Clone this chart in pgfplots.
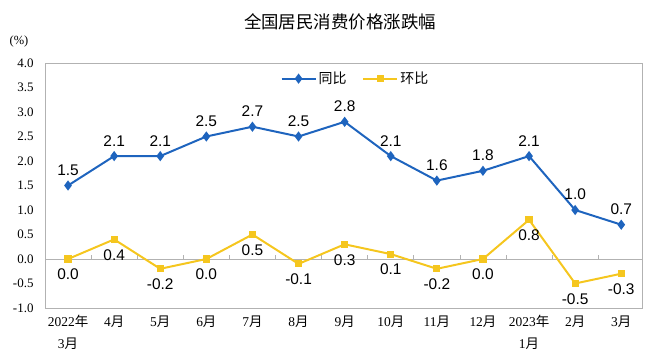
\documentclass[border=0pt]{standalone}
\usepackage{pgfplots}
\pgfplotsset{compat=1.18}
\usepackage{fontspec}
\setmainfont{Liberation Serif}
\newfontfamily\cjk{Noto Sans CJK SC}
\newfontfamily\arial{Liberation Sans}
\definecolor{tb}{RGB}{30,100,190}
\definecolor{ty}{RGB}{245,198,30}
\begin{document}
\begin{tikzpicture}
\begin{axis}[
  scale only axis, width=597bp, height=245bp,
  at={(0,0)}, anchor=south west,
  xmin=-0.5, xmax=12.45, ymin=-1, ymax=4,
  /pgf/number format/assume math mode=true,
  ytick={-1,-0.5,0,0.5,1,1.5,2,2.5,3,3.5,4},
  yticklabel style={/pgf/number format/fixed, /pgf/number format/fixed zerofill, /pgf/number format/precision=1, font=\fontsize{13}{14}\selectfont, xshift=-8bp},
  major tick length=0pt,
  xtick={0,...,12},
  xticklabels={{2022{\cjk 年}\\3{\cjk 月}},4{\cjk 月},5{\cjk 月},6{\cjk 月},7{\cjk 月},8{\cjk 月},9{\cjk 月},10{\cjk 月},11{\cjk 月},12{\cjk 月},{2023{\cjk 年}\\1{\cjk 月}},2{\cjk 月},3{\cjk 月}},
  xticklabel style={align=center, anchor=north, yshift=-4bp, font=\fontsize{13.5}{22}\selectfont},
  axis line style={black!30, line width=0.9pt},
  clip=false,
  legend style={at={(0.52,0.98)}, anchor=north, draw=none, fill=none, legend columns=2, font=\cjk\fontsize{14}{15}\selectfont, /tikz/every even column/.append style={column sep=14bp}},
  legend image code/.code={\draw[mark repeat=2,mark phase=2,#1] plot coordinates {(0bp,0bp)(17bp,0bp)(34bp,0bp)};},
  nodes near coords={\pgfmathprintnumber[fixed,fixed zerofill,precision=1]{\pgfplotspointmeta}},
]
\draw[black!30, line width=0.9pt] (axis cs:-0.5,0) -- (axis cs:12.45,0);
\pgfplotsinvokeforeach{0,...,11}{\draw[black!30, line width=0.8pt] (axis cs:#1+0.5,0) -- (axis cs:#1+0.5,0.08);}
\addplot[color=tb, line width=2pt, mark=diamond*, mark size=3.5bp, mark options={solid},
  nodes near coords style={anchor=south, yshift=8bp, inner sep=1bp, font=\arial\fontsize{15.5}{17}\selectfont, text=black}]
  coordinates {(0,1.5)(1,2.1)(2,2.1)(3,2.5)(4,2.7)(5,2.5)(6,2.8)(7,2.1)(8,1.6)(9,1.8)(10,2.1)(11,1.0)(12,0.7)};
\addlegendentry{同比}
\addplot[color=ty, line width=2pt, mark=square*, mark size=2.6bp,
  nodes near coords style={anchor=north, yshift=-8bp, inner sep=1bp, font=\arial\fontsize{15.5}{17}\selectfont, text=black}]
  coordinates {(0,0.0)(1,0.4)(2,-0.2)(3,0.0)(4,0.5)(5,-0.1)(6,0.3)(7,0.1)(8,-0.2)(9,0.0)(10,0.8)(11,-0.5)(12,-0.3)};
\addlegendentry{环比}
\end{axis}
\node[font=\cjk\fontsize{17.5}{18}\selectfont] at (295bp,286bp) {全国居民消费价格涨跌幅};
\node[font=\fontsize{12.5}{13}\selectfont] at (-26bp,266bp) {(\%)};
\pgfresetboundingbox
\path[use as bounding box] (-45bp,-56bp) rectangle (603bp,308bp);
\end{tikzpicture}
\end{document}
